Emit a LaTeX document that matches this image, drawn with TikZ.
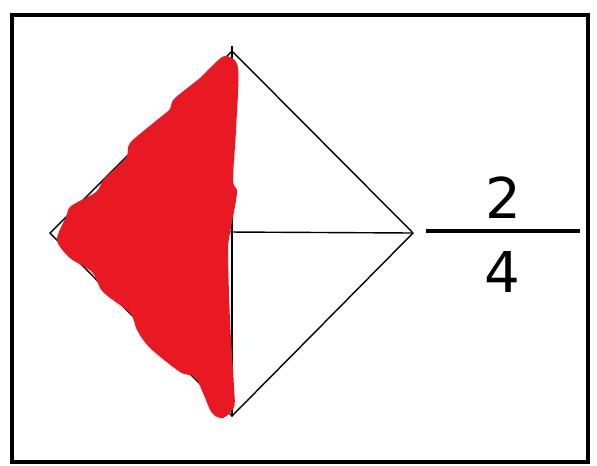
\documentclass[tikz,border=0pt]{standalone}
\usepackage{fontspec}
\newfontfamily\digitfont{DejaVu Sans}
\definecolor{shadered}{RGB}{232,25,34}
\usetikzlibrary{positioning}

\begin{document}
\begin{tikzpicture}[x=0.03cm, y=-0.03cm,
    frame/.style={draw=black, line width=3.4pt},
    edge/.style={draw=black, line width=1.2pt},
    barline/.style={draw=black, line width=3pt},
    digit/.style={inner sep=0pt, font=\digitfont\fontsize{48}{48}\selectfont}
  ]
    \useasboundingbox (0,0) rectangle (597,465);
    % Frame
    \draw[frame] (12,15) rectangle (588,462);
    % Diamond corners
    \coordinate (top) at (232,51);
    \coordinate (tick) at (232,46);
    \coordinate (left) at (50,233);
    \coordinate (right) at (413,233);
    \coordinate (bottom) at (232,416);
    \coordinate (mid) at (229,232);
    % Diamond and its cuts
    \draw[edge, line join=miter] (top) -- (right) -- (bottom) -- (left) -- cycle;
    \draw[edge] (tick) -- (bottom);
    \draw[edge] (mid) -- (right);
    % Shaded half
    \fill[shadered] plot[smooth cycle, tension=0.5] coordinates {
      (225,56) (238,68) (236,130) (233,180) (237,193) (230,233)
      (228,253) (230,320) (234,387) (234,407) (223,418) (212,413)
      (203,393) (195,377) (180,372) (150,348) (137,330) (130,313)
      (103,292) (92,272) (70,258) (57,240) (66,217) (71,206)
      (96,192) (104,179) (126,158) (130,143) (157,120) (170,109)
      (174,99) (200,78) (210,68)};
    % Fraction
    \coordinate (barL) at (426,231);
    \coordinate (barR) at (580,231);
    \draw[barline] (barL) -- (barR);
    \node[digit] (num) at (503,198) {2};
    \node[digit] (den) at (502,272) {4};
  \end{tikzpicture}
\end{document}
